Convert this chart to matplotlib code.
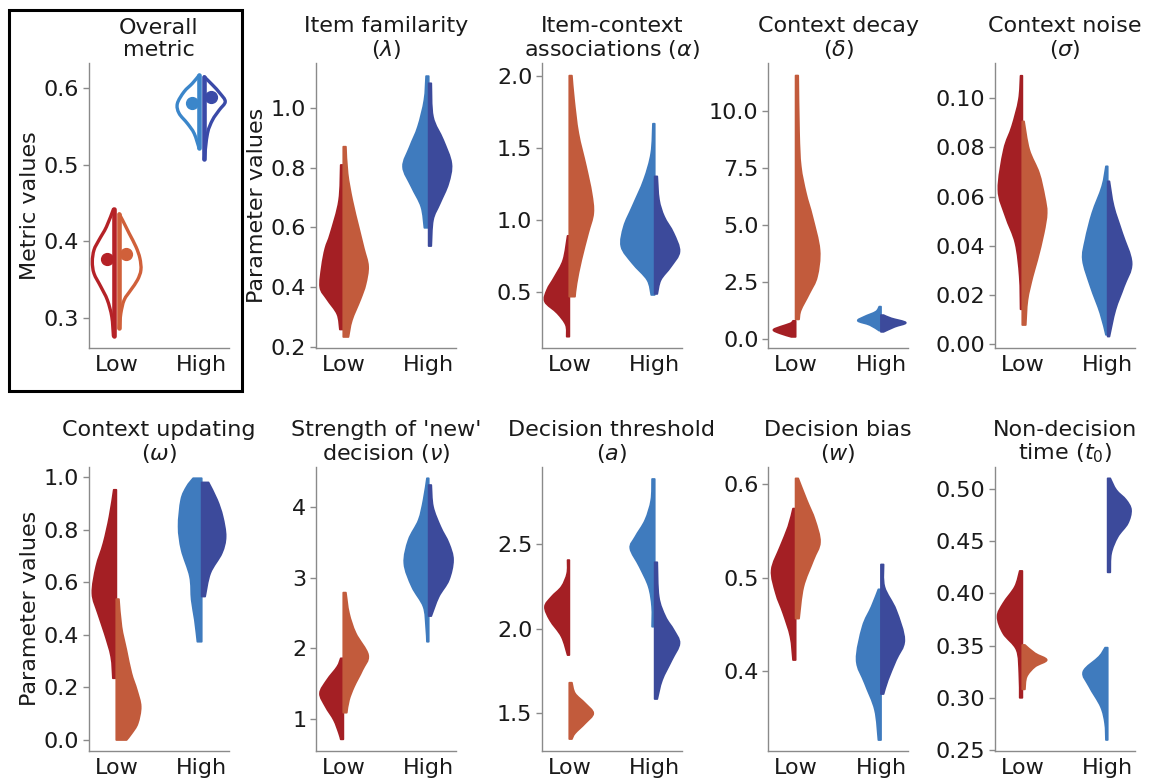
import numpy as np
import matplotlib
matplotlib.use("Agg")
import matplotlib.pyplot as plt
from matplotlib.patches import Rectangle, PathPatch
from matplotlib.path import Path

# ---------------------------------------------------------------------------
# Groups and colours
# ---------------------------------------------------------------------------
groups = ["Low", "High"]
low_colors = ["#A41F24", "#C25B3C"]    # left / right half at "Low"
high_colors = ["#3F7BBE", "#3C4A9B"]   # left / right half at "High"

# ---------------------------------------------------------------------------
# Half-violin density profiles: (values, half-widths), top to bottom
# ---------------------------------------------------------------------------
# Overall metric (outline violins)
overall_low_a = ([0.442, 0.419, 0.402, 0.389, 0.3735, 0.358, 0.341, 0.3235, 0.3017, 0.2765],
                 [0.034, 0.116, 0.202, 0.261, 0.281, 0.261, 0.182, 0.105, 0.053, 0.034])
overall_low_b = ([0.4358, 0.428, 0.4106, 0.393, 0.378, 0.3627, 0.3496, 0.3366, 0.3235, 0.306, 0.2865],
                 [0.034, 0.072, 0.15, 0.23, 0.276, 0.288, 0.248, 0.17, 0.092, 0.053, 0.034])
overall_high_a = ([0.617, 0.6065, 0.5955, 0.580, 0.5673, 0.554, 0.541, 0.5216],
                  [0.03, 0.108, 0.206, 0.285, 0.265, 0.167, 0.088, 0.03])
overall_high_b = ([0.615, 0.6043, 0.5935, 0.5825, 0.5716, 0.5586, 0.541, 0.507],
                  [0.03, 0.127, 0.214, 0.276, 0.206, 0.127, 0.068, 0.03])
overall_means_low = [0.377, 0.383]
overall_means_high = [0.581, 0.588]

# Item familiarity (lambda)
lam_low_a = ([0.809, 0.69, 0.58, 0.53, 0.47, 0.40, 0.36, 0.31, 0.259],
             [0.03, 0.05, 0.15, 0.21, 0.25, 0.27, 0.19, 0.07, 0.04])
lam_low_b = ([0.87, 0.78, 0.69, 0.60, 0.53, 0.47, 0.41, 0.36, 0.29, 0.234],
             [0.03, 0.05, 0.105, 0.18, 0.24, 0.29, 0.26, 0.2, 0.1, 0.06])
lam_high_a = ([1.106, 1.026, 0.937, 0.87, 0.803, 0.736, 0.669, 0.599],
              [0.03, 0.05, 0.125, 0.22, 0.30, 0.2, 0.086, 0.05])
lam_high_b = ([1.082, 0.97, 0.892, 0.814, 0.747, 0.68, 0.625, 0.538],
              [0.03, 0.05, 0.17, 0.265, 0.23, 0.13, 0.05, 0.03])

# Item-context associations (alpha)
alpha_low_a = ([0.887, 0.72, 0.604, 0.512, 0.43, 0.35, 0.268, 0.187],
               [0.02, 0.07, 0.17, 0.26, 0.285, 0.14, 0.04, 0.03])
alpha_low_b = ([2.0, 1.833, 1.6, 1.37, 1.184, 1.045, 0.906, 0.72, 0.558, 0.465],
               [0.03, 0.055, 0.105, 0.195, 0.26, 0.28, 0.22, 0.14, 0.085, 0.066])
alpha_high_a = ([1.666, 1.462, 1.277, 1.091, 0.952, 0.813, 0.697, 0.581, 0.477],
                [0.02, 0.04, 0.125, 0.26, 0.36, 0.39, 0.26, 0.086, 0.04])
alpha_high_b = ([1.30, 1.138, 1.021, 0.906, 0.778, 0.674, 0.581, 0.484],
                [0.03, 0.05, 0.11, 0.22, 0.29, 0.19, 0.07, 0.03])

# Context decay (delta)
delta_low_a = ([0.81, 0.70, 0.55, 0.41, 0.26, 0.11],
               [0.03, 0.06, 0.18, 0.26, 0.18, 0.05])
delta_low_b = ([11.53, 9.02, 7.56, 6.39, 5.37, 3.91, 2.74, 2.01, 1.28, 0.875],
               [0.03, 0.04, 0.06, 0.12, 0.195, 0.28, 0.25, 0.16, 0.06, 0.04])
delta_high_a = ([1.43, 1.21, 0.99, 0.81, 0.63, 0.38],
                [0.02, 0.06, 0.195, 0.27, 0.13, 0.02])
delta_high_b = ([1.06, 0.92, 0.73, 0.55, 0.33],
                [0.03, 0.12, 0.29, 0.16, 0.03])

# Context noise (sigma)
sigma_low_a = ([0.1092, 0.0995, 0.0886, 0.0791, 0.0628, 0.0519, 0.041, 0.0274, 0.0141],
               [0.02, 0.04, 0.12, 0.215, 0.28, 0.195, 0.08, 0.03, 0.02])
sigma_low_b = ([0.0906, 0.0791, 0.0696, 0.060, 0.0533, 0.0451, 0.0342, 0.0274, 0.0179, 0.0077],
               [0.02, 0.08, 0.195, 0.26, 0.285, 0.25, 0.175, 0.12, 0.06, 0.04])
sigma_high_a = ([0.0723, 0.0641, 0.0533, 0.0424, 0.0342, 0.0234, 0.0125, 0.0037],
                [0.02, 0.065, 0.18, 0.26, 0.29, 0.2, 0.086, 0.02])
sigma_high_b = ([0.0662, 0.056, 0.0451, 0.0329, 0.0234, 0.0139, 0.003],
                [0.02, 0.07, 0.17, 0.28, 0.19, 0.09, 0.02])

# Context updating (omega)
omega_low_a = ([0.952, 0.85, 0.749, 0.66, 0.558, 0.482, 0.406, 0.317, 0.235],
               [0.03, 0.08, 0.15, 0.235, 0.28, 0.215, 0.137, 0.06, 0.04])
omega_low_b = ([0.536, 0.431, 0.343, 0.254, 0.19, 0.127, 0.063, 0.025, 0.0],
               [0.03, 0.06, 0.117, 0.176, 0.24, 0.285, 0.25, 0.18, 0.12])
omega_high_a = ([0.996, 0.964, 0.914, 0.812, 0.723, 0.622, 0.533, 0.457, 0.374],
                [0.1, 0.175, 0.24, 0.27, 0.235, 0.137, 0.117, 0.08, 0.05])
omega_high_b = ([0.98, 0.914, 0.85, 0.774, 0.711, 0.635, 0.546],
                [0.08, 0.18, 0.245, 0.28, 0.235, 0.1, 0.04])

# Strength of 'new' decision (nu)
nu_low_a = ([1.86, 1.743, 1.555, 1.367, 1.179, 0.99, 0.803, 0.718],
            [0.03, 0.07, 0.19, 0.273, 0.207, 0.11, 0.05, 0.03])
nu_low_b = ([2.787, 2.495, 2.213, 1.907, 1.696, 1.461, 1.273, 1.094],
            [0.03, 0.066, 0.145, 0.29, 0.223, 0.125, 0.066, 0.04])
nu_high_a = ([4.40, 4.094, 3.81, 3.53, 3.2, 2.871, 2.589, 2.307, 2.095],
             [0.02, 0.06, 0.117, 0.235, 0.285, 0.195, 0.06, 0.03, 0.02])
nu_high_b = ([4.305, 4.0, 3.717, 3.482, 3.247, 2.965, 2.73, 2.457],
             [0.03, 0.05, 0.137, 0.235, 0.285, 0.235, 0.117, 0.03])

# Decision threshold (a)
a_low_a = ([2.407, 2.328, 2.25, 2.19, 2.131, 2.052, 1.954, 1.845],
           [0.02, 0.025, 0.09, 0.207, 0.285, 0.226, 0.09, 0.02])
a_low_b = ([1.681, 1.618, 1.559, 1.5, 1.441, 1.382, 1.348],
           [0.03, 0.066, 0.185, 0.28, 0.185, 0.066, 0.03])
a_high_a = ([2.887, 2.762, 2.644, 2.545, 2.476, 2.368, 2.25, 2.131, 2.013],
            [0.03, 0.04, 0.11, 0.226, 0.285, 0.176, 0.07, 0.03, 0.03])
a_high_b = ([2.394, 2.19, 2.072, 1.993, 1.914, 1.816, 1.697, 1.585],
            [0.03, 0.047, 0.125, 0.223, 0.29, 0.2, 0.086, 0.03])

# Decision bias (w)
w_low_a = ([0.574, 0.5546, 0.533, 0.508, 0.483, 0.4615, 0.4365, 0.4115],
           [0.03, 0.086, 0.18, 0.28, 0.23, 0.144, 0.06, 0.03])
w_low_b = ([0.6064, 0.583, 0.5617, 0.538, 0.5188, 0.49, 0.456],
           [0.03, 0.13, 0.226, 0.285, 0.207, 0.09, 0.04])
w_high_a = ([0.4873, 0.4687, 0.4472, 0.4115, 0.3864, 0.3578, 0.3256],
            [0.03, 0.11, 0.215, 0.285, 0.188, 0.07, 0.03])
w_high_b = ([0.514, 0.49, 0.465, 0.4329, 0.4115, 0.39, 0.375],
            [0.03, 0.04, 0.176, 0.273, 0.176, 0.08, 0.03])

# Non-decision time (t0)
t0_low_a = ([0.4215, 0.4064, 0.3905, 0.3777, 0.3617, 0.3458, 0.3234, 0.30],
            [0.03, 0.086, 0.223, 0.29, 0.223, 0.066, 0.035, 0.03])
t0_low_b = ([0.3506, 0.3426, 0.3362, 0.3298, 0.3202, 0.3081],
            [0.03, 0.148, 0.285, 0.148, 0.05, 0.03])
t0_high_a = ([0.348, 0.3394, 0.325, 0.3107, 0.2915, 0.2755, 0.2596],
             [0.03, 0.1, 0.285, 0.215, 0.08, 0.03, 0.02])
t0_high_b = ([0.5102, 0.499, 0.4895, 0.4799, 0.4671, 0.4543, 0.4384, 0.4202],
             [0.03, 0.1, 0.215, 0.273, 0.234, 0.117, 0.04, 0.03])

# Panel titles, y ticks and y ranges
titles = ["Overall\nmetric", "Item familarity\n($\\lambda$)",
          "Item-context\nassociations ($\\alpha$)", "Context decay\n($\\delta$)",
          "Context noise\n($\\sigma$)", "Context updating\n($\\omega$)",
          "Strength of 'new'\ndecision ($\\nu$)", "Decision threshold\n($a$)",
          "Decision bias\n($w$)", "Non-decision\ntime ($t_0$)"]
yticks = [[0.3, 0.4, 0.5, 0.6], [0.2, 0.4, 0.6, 0.8, 1.0], [0.5, 1.0, 1.5, 2.0],
          [0.0, 2.5, 5.0, 7.5, 10.0], [0.0, 0.02, 0.04, 0.06, 0.08, 0.10],
          [0.0, 0.2, 0.4, 0.6, 0.8, 1.0], [1, 2, 3, 4], [1.5, 2.0, 2.5],
          [0.4, 0.5, 0.6], [0.25, 0.30, 0.35, 0.40, 0.45, 0.50]]
yfmt = ["{:.1f}", "{:.1f}", "{:.1f}", "{:.1f}", "{:.2f}",
        "{:.1f}", "{:.0f}", "{:.1f}", "{:.1f}", "{:.2f}"]
ylims = [(0.2604, 0.633), (0.196, 1.15), (0.106, 2.088), (-0.39, 12.08),
         (-0.0018, 0.1144), (-0.042, 1.04), (0.553, 4.564), (1.277, 2.96),
         (0.3138, 0.619), (0.249, 0.5214)]
ylabels = {0: "Metric values", 1: "Parameter values", 5: "Parameter values"}

filled_panels = [
    (lam_low_a, lam_low_b, lam_high_a, lam_high_b),
    (alpha_low_a, alpha_low_b, alpha_high_a, alpha_high_b),
    (delta_low_a, delta_low_b, delta_high_a, delta_high_b),
    (sigma_low_a, sigma_low_b, sigma_high_a, sigma_high_b),
    (omega_low_a, omega_low_b, omega_high_a, omega_high_b),
    (nu_low_a, nu_low_b, nu_high_a, nu_high_b),
    (a_low_a, a_low_b, a_high_a, a_high_b),
    (w_low_a, w_low_b, w_high_a, w_high_b),
    (t0_low_a, t0_low_b, t0_high_a, t0_high_b),
]

# ---------------------------------------------------------------------------
# Figure layout (pixel geometry converted to figure fractions)
# ---------------------------------------------------------------------------
W, H = 1149, 781
fig = plt.figure(figsize=(W / 100, H / 100), dpi=100)
plt.rcParams["font.family"] = ["DejaVu Sans"]
plt.rcParams["mathtext.fontset"] = "dejavusans"
FS = 16

col_left = [89, 316, 542, 768.3, 995]
row_tb = [(63, 348.3), (466.7, 751)]
ax_w = 140

SPINE = "#8a8a8a"
TEXT = "#1a1a1a"


def make_axes(i):
    r, c = divmod(i, 5)
    top, bot = row_tb[r]
    ax = fig.add_axes([col_left[c] / W, 1 - bot / H, ax_w / W, (bot - top) / H])
    for s in ("top", "right"):
        ax.spines[s].set_visible(False)
    for s in ("left", "bottom"):
        ax.spines[s].set_color(SPINE)
        ax.spines[s].set_linewidth(1.0)
    ax.set_xlim(-0.32, 1.32)
    ax.set_xticks([0, 1])
    ax.set_xticklabels(groups, fontsize=FS, color=TEXT)
    ax.tick_params(axis="x", length=0, pad=5)
    ax.tick_params(axis="y", length=4, width=1, color=SPINE, labelsize=FS,
                   labelcolor=TEXT, pad=3)
    ax.set_ylim(*ylims[i])
    ax.set_yticks(yticks[i])
    ax.set_yticklabels([yfmt[i].format(v) for v in yticks[i]])
    ax.set_title(titles[i], fontsize=FS, pad=5, linespacing=1.1, color=TEXT)
    if i in ylabels:
        ax.set_ylabel(ylabels[i], fontsize=FS, labelpad=3, color=TEXT)
    return ax


def outline_curve(xs, ys):
    """Smooth Catmull-Rom curve through the knots, returned as Bezier vertices."""
    P = np.column_stack([xs, ys])
    Pe = np.vstack([P[0], P, P[-1]])
    verts = [P[0]]
    for i in range(len(P) - 1):
        p0, p1, p2, p3 = Pe[i], Pe[i + 1], Pe[i + 2], Pe[i + 3]
        verts += [p1 + (p2 - p0) / 6.0, p2 - (p3 - p1) / 6.0, p2]
    return verts


def half_violin(ax, x0, side, profile, color):
    ys, ws = np.asarray(profile[0], float), np.asarray(profile[1], float)
    curve = outline_curve(x0 + side * ws, ys)
    verts = [(x0, ys[0])] + curve + [(x0, ys[-1]), (x0, ys[0])]
    codes = ([Path.MOVETO, Path.LINETO] + [Path.CURVE4] * (len(curve) - 1)
             + [Path.LINETO, Path.CLOSEPOLY])
    ax.add_patch(PathPatch(Path(verts, codes), facecolor=color, edgecolor=color,
                           linewidth=1.3, joinstyle="round", zorder=2))


def outline_half(ax, x0, side, profile, mean, color):
    ys, ws = np.asarray(profile[0], float), np.asarray(profile[1], float)
    curve = outline_curve(x0 + side * ws, ys)
    codes = [Path.MOVETO] + [Path.CURVE4] * (len(curve) - 1)
    ax.add_patch(PathPatch(Path(curve, codes), fill=False, edgecolor=color,
                           linewidth=2.4, capstyle="round", joinstyle="round", zorder=2))
    ax.plot([x0 + side * 0.03] * 2, [ys.min(), ys.max()], color=color, lw=3.3,
            solid_capstyle="round", zorder=3)
    ax.plot([x0 + side * 0.11], [mean], "o", color=color, ms=8.5, zorder=4)


# Panel 0: overall metric, outlined split violins with means
ax0 = make_axes(0)
outline_half(ax0, 0, -1, overall_low_a, overall_means_low[0], "#B52227")
outline_half(ax0, 0, 1, overall_low_b, overall_means_low[1], "#D0603A")
outline_half(ax0, 1, -1, overall_high_a, overall_means_high[0], "#3B86CA")
outline_half(ax0, 1, 1, overall_high_b, overall_means_high[1], "#3A4AA8")

# Remaining panels: filled split violins
for k, (la, lb, ha, hb) in enumerate(filled_panels):
    ax = make_axes(k + 1)
    half_violin(ax, 0, -1, la, low_colors[0])
    half_violin(ax, 0, 1, lb, low_colors[1])
    half_violin(ax, 1, -1, ha, high_colors[0])
    half_violin(ax, 1, 1, hb, high_colors[1])

# Frame around the overall-metric panel
fig.patches.append(Rectangle((9 / W, 1 - 390.7 / H), (242.3 - 9) / W, (390.7 - 10) / H,
                             transform=fig.transFigure, fill=False,
                             edgecolor="black", linewidth=2.2))

fig.savefig("out.png", dpi=100)
